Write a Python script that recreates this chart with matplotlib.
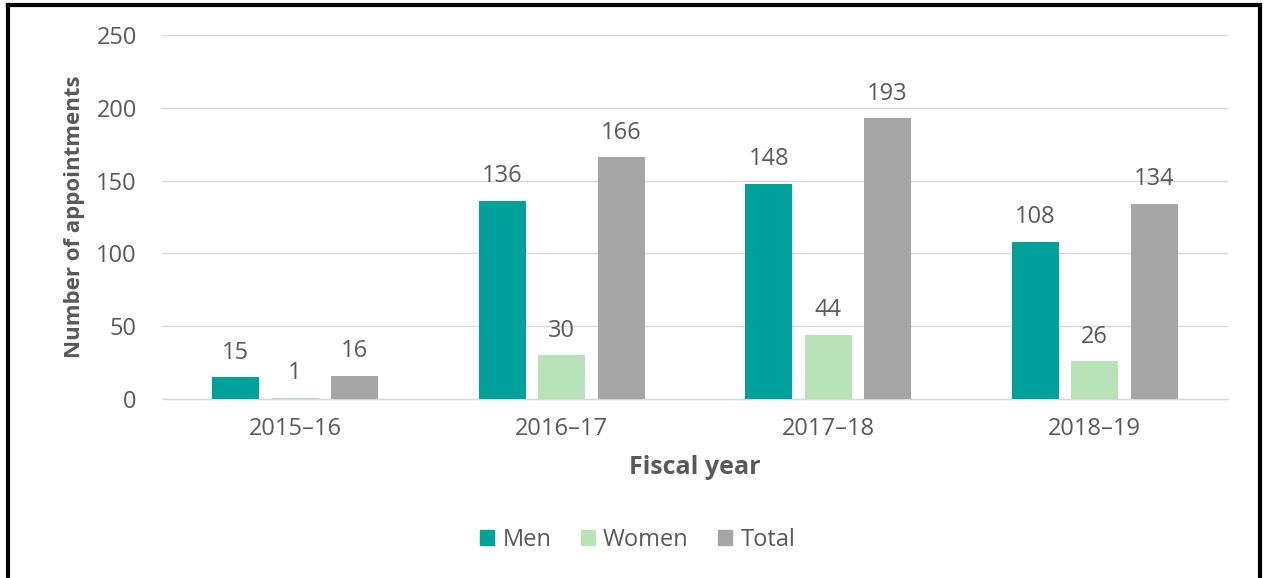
import matplotlib
matplotlib.use("Agg")
import matplotlib.pyplot as plt
import numpy as np
from matplotlib.lines import Line2D

plt.rcParams['font.family'] = ['Open Sans', 'DejaVu Sans']

fiscal_years = ["2015\u201316", "2016\u201317", "2017\u201318", "2018\u201319"]
men = [15, 136, 148, 108]
women = [1, 30, 44, 26]
total = [16, 166, 193, 134]
series_names = ["Men", "Women", "Total"]
series_colors = ["#00A19A", "#B8E2B8", "#A5A5A5"]

text_color = "#595959"

fig = plt.figure(figsize=(12.64, 5.78), dpi=100)
ax = fig.add_axes([0.128, 0.3097, 0.8435, 0.6297])

x = np.arange(len(fiscal_years))
width = 0.176
step = 0.223
for i, (vals, name, col) in enumerate(zip([men, women, total], series_names, series_colors)):
    pos = x + (i - 1) * step
    bars = ax.bar(pos, vals, width=width, color=col, label=name, zorder=3)
    for b, v in zip(bars, vals):
        ax.annotate(str(v), (b.get_x() + b.get_width() / 2, v),
                    xytext=(0, 9), textcoords="offset points",
                    ha="center", va="bottom", fontsize=17, color=text_color)

ax.set_xlim(-0.5, len(fiscal_years) - 0.5)
ax.set_ylim(0, 250)
ax.set_yticks(range(0, 251, 50))
ax.set_xticks(x)
ax.set_xticklabels(fiscal_years)
ax.tick_params(axis="both", length=0, labelsize=17, labelcolor=text_color)
ax.tick_params(axis="y", pad=18)
ax.tick_params(axis="x", pad=13)
ax.grid(axis="y", color="#D9D9D9", linewidth=1, zorder=0)
for s in ["top", "right", "left"]:
    ax.spines[s].set_visible(False)
ax.spines["bottom"].set_color("#D9D9D9")
ax.spines["bottom"].set_linewidth(1)

ax.set_ylabel("Number of appointments", fontsize=16, fontweight="bold",
              color=text_color, labelpad=8)
ax.set_xlabel("Fiscal year", fontsize=18, fontweight="bold",
              color=text_color, labelpad=10)

handles = [plt.Rectangle((0, 0), 1, 1, color=c) for c in series_colors]
fig.legend(handles, series_names, loc="center", bbox_to_anchor=(0.5045, 0.066),
           ncol=3, frameon=False, fontsize=17, handlelength=0.6, handleheight=0.6,
           handletextpad=0.35, columnspacing=1.25, labelcolor=text_color)

# Outer black frame (open at the bottom edge)
fig.add_artist(Line2D([0.0063, 0.0063], [0, 0.991], color="black", linewidth=3,
                      transform=fig.transFigure))
fig.add_artist(Line2D([0.0063, 0.9972], [0.991, 0.991], color="black", linewidth=3,
                      transform=fig.transFigure))
fig.add_artist(Line2D([0.9972, 0.9972], [0, 0.991], color="black", linewidth=3,
                      transform=fig.transFigure))

fig.savefig("out.png", dpi=100)
